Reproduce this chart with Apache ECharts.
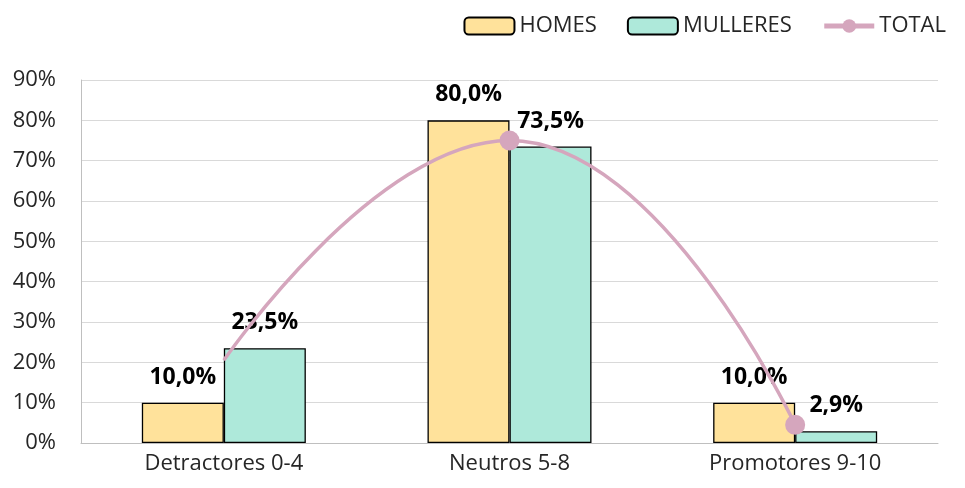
<!DOCTYPE html>
<html><head><meta charset="utf-8">
<script src="https://cdn.jsdelivr.net/npm/echarts@6/dist/echarts.min.js"></script>
<style>html,body{margin:0;padding:0;background:#fff}#c{width:965px;height:488px}</style>
</head><body><div id="c"></div>
<script>
var categories = ['Detractores 0-4', 'Neutros 5-8', 'Promotores 9-10'];
var homes = [10.0, 80.0, 10.0];
var mulleres = [23.5, 73.5, 2.9];
var total = [20.5, 75.0, 4.5];
var yTicks = [0, 10, 20, 30, 40, 50, 60, 70, 80, 90];

var FONT = 'Open Sans';
function pct(v){ return v.toFixed(1).replace('.', ',') + '%'; }
var chart = echarts.init(document.getElementById('c'));
var labelStyle = {show:true, position:'top', distance:14, fontFamily:FONT, fontWeight:'bold', fontSize:23, color:'#000',
  formatter:function(p){return pct(p.value);}};
chart.setOption({
  animation:false,
  textStyle:{fontFamily:FONT},
  legend:{top:10, right:14, itemWidth:50, itemHeight:17, itemGap:30,
    textStyle:{fontFamily:FONT, fontSize:22, color:'#262626'},
    data:['HOMES','MULLERES',{name:'TOTAL', lineStyle:{width:5}}]},
  grid:{left:81, right:27, top:80, bottom:45},
  xAxis:{type:'category', data:categories,
    axisLine:{lineStyle:{color:'#BFBFBF'}}, axisTick:{show:false},
    axisLabel:{fontFamily:FONT, fontSize:22, color:'#262626', margin:10}},
  yAxis:{type:'value', min:yTicks[0], max:yTicks[yTicks.length-1], interval:10,
    axisLine:{show:true, lineStyle:{color:'#BFBFBF'}}, axisTick:{show:false},
    splitLine:{lineStyle:{color:'#D9D9D9'}},
    axisLabel:{fontFamily:FONT, fontSize:22, color:'#262626', margin:25, formatter:function(v){return v+'%';}}},
  series:[
    {name:'HOMES', type:'bar', data:homes, barWidth:82, barGap:'0%',
      itemStyle:{color:'#FFE29B', borderColor:'#000', borderWidth:1.3}, label:labelStyle},
    {name:'MULLERES', type:'bar', data:mulleres, barWidth:82,
      itemStyle:{color:'#AEE9DA', borderColor:'#000', borderWidth:1.3}, label:labelStyle},
    {name:'TOTAL', type:'line', smooth:0.5, z:5,
      data:total.map(function(v,i){return i===0?{value:v, symbol:'none'}:v;}),
      symbol:'circle', symbolSize:20,
      lineStyle:{color:'#D5A6BD', width:3.5}, itemStyle:{color:'#D5A6BD'}}
  ]
});
</script></body></html>
